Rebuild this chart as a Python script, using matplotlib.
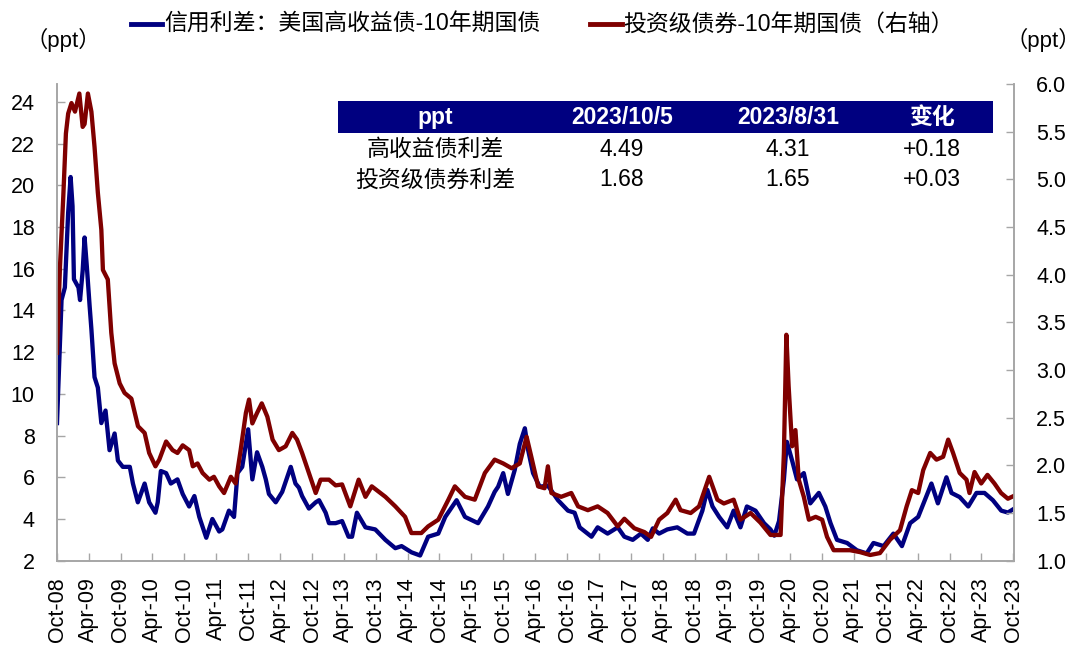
import matplotlib
matplotlib.use("Agg")
import matplotlib.pyplot as plt
import matplotlib.dates as mdates
from matplotlib.lines import Line2D
from matplotlib.patches import Rectangle
import pandas as pd

plt.rcParams['font.family'] = ['Liberation Sans', 'Noto Sans CJK SC']

# ---------------- data ----------------
hy_dates = [
    "2008-10-01", "2008-10-27", "2008-11-15", "2008-12-04", "2008-12-18", "2008-12-29",
    "2009-01-06", "2009-02-01", "2009-02-10", "2009-02-25", "2009-03-08", "2009-03-21",
    "2009-04-06", "2009-04-16", "2009-05-04", "2009-05-23", "2009-06-12", "2009-07-06",
    "2009-07-29", "2009-08-27", "2009-09-15", "2009-10-13", "2009-11-22", "2009-12-10",
    "2010-01-07", "2010-02-15", "2010-03-13", "2010-04-18", "2010-05-01", "2010-05-19",
    "2010-06-18", "2010-07-15", "2010-08-22", "2010-09-21", "2010-10-28", "2010-11-27",
    "2010-12-25", "2011-02-03", "2011-03-10", "2011-04-18", "2011-05-06", "2011-06-13",
    "2011-07-12", "2011-08-01", "2011-08-28", "2011-10-01", "2011-10-25", "2011-11-21",
    "2011-12-21", "2012-01-10", "2012-01-28", "2012-03-07", "2012-04-13", "2012-06-01",
    "2012-06-28", "2012-07-18", "2012-08-05", "2012-09-13", "2012-10-22", "2012-11-10",
    "2012-12-18", "2013-01-06", "2013-02-13", "2013-03-22", "2013-04-28", "2013-05-18",
    "2013-06-15", "2013-08-03", "2013-09-28", "2013-11-25", "2014-01-21", "2014-02-26",
    "2014-04-24", "2014-06-12", "2014-07-28", "2014-09-24", "2014-11-03", "2015-01-07",
    "2015-02-24", "2015-05-10", "2015-07-06", "2015-08-13", "2015-09-02", "2015-10-01",
    "2015-10-28", "2015-12-06", "2016-01-04", "2016-02-02", "2016-02-21", "2016-03-20",
    "2016-04-27", "2016-06-13", "2016-08-10", "2016-10-06", "2016-11-13", "2016-12-12",
    "2017-02-18", "2017-03-25", "2017-05-21", "2017-07-18", "2017-08-25", "2017-10-12",
    "2017-11-28", "2018-01-06", "2018-02-04", "2018-03-12", "2018-04-28", "2018-06-24",
    "2018-08-21", "2018-09-28", "2018-11-15", "2018-12-13", "2019-01-12", "2019-02-19",
    "2019-04-06", "2019-05-13", "2019-06-21", "2019-07-28", "2019-09-15", "2019-11-03",
    "2019-12-10", "2020-01-01", "2020-01-28", "2020-02-25", "2020-03-13", "2020-04-12",
    "2020-05-10", "2020-06-18", "2020-07-25", "2020-09-12", "2020-10-19", "2020-11-18",
    "2020-12-25", "2021-02-21", "2021-04-18", "2021-06-13", "2021-07-22", "2021-09-18",
    "2021-11-13", "2022-01-01", "2022-02-17", "2022-04-04", "2022-05-12", "2022-06-19",
    "2022-07-26", "2022-09-13", "2022-10-12", "2022-11-28", "2023-01-16", "2023-03-04",
    "2023-04-19", "2023-06-06", "2023-07-24", "2023-08-31", "2023-10-05",
]
hy_spread = [
    8.6, 14.5, 15.1, 18.7, 20.4, 19.0,
    15.5, 15.1, 14.5, 15.9, 17.5, 16.1,
    14.2, 13.1, 10.8, 10.3, 8.6, 9.2,
    7.3, 8.1, 6.8, 6.5, 6.5, 5.7,
    4.8, 5.7, 4.8, 4.3, 4.8, 6.3,
    6.2, 5.7, 5.9, 5.2, 4.6, 5.1,
    4.1, 3.1, 4.0, 3.4, 3.5, 4.4,
    4.1, 6.2, 6.5, 8.3, 5.9, 7.2,
    6.5, 5.9, 5.2, 4.8, 5.3, 6.5,
    5.7, 5.5, 5.1, 4.5, 4.8, 4.9,
    4.3, 3.8, 3.8, 3.9, 3.15, 3.15,
    4.3, 3.6, 3.5, 3.0, 2.6, 2.7,
    2.4, 2.25, 3.15, 3.3, 4.1, 4.9,
    4.1, 3.8, 4.6, 5.3, 5.55, 6.2,
    5.2, 6.35, 7.6, 8.35, 7.3, 6.2,
    5.55, 5.6, 4.9, 4.4, 4.3, 3.6,
    3.15, 3.6, 3.3, 3.6, 3.15, 3.0,
    3.3, 3.0, 3.55, 3.3, 3.5, 3.6,
    3.3, 3.3, 4.4, 5.4, 4.6, 4.1,
    3.6, 4.4, 3.6, 4.6, 4.4, 3.8,
    3.5, 3.2, 3.9, 5.9, 7.7, 6.8,
    5.9, 6.2, 4.75, 5.25, 4.6, 3.8,
    3.0, 2.85, 2.5, 2.35, 2.85, 2.7,
    3.3, 2.7, 3.8, 4.1, 4.9, 5.7,
    4.75, 6.0, 5.25, 5.05, 4.6, 5.25,
    5.25, 4.9, 4.4, 4.31, 4.49,
]

ig_dates = [
    "2008-10-01", "2008-10-18", "2008-11-06", "2008-11-21", "2008-12-04", "2008-12-23",
    "2009-01-12", "2009-02-06", "2009-02-25", "2009-03-08", "2009-03-27", "2009-04-16",
    "2009-05-04", "2009-05-23", "2009-06-12", "2009-06-21", "2009-07-19", "2009-08-08",
    "2009-08-27", "2009-09-25", "2009-10-23", "2009-12-01", "2010-01-08", "2010-02-15",
    "2010-03-13", "2010-04-18", "2010-05-10", "2010-06-18", "2010-07-25", "2010-08-22",
    "2010-09-21", "2010-10-28", "2010-11-18", "2010-12-15", "2011-01-13", "2011-02-21",
    "2011-03-19", "2011-04-18", "2011-05-16", "2011-06-24", "2011-07-21", "2011-08-19",
    "2011-09-18", "2011-10-06", "2011-10-25", "2011-11-21", "2011-12-18", "2012-01-19",
    "2012-02-18", "2012-03-25", "2012-05-03", "2012-06-10", "2012-07-07", "2012-08-05",
    "2012-09-13", "2012-10-22", "2012-11-19", "2013-01-06", "2013-02-13", "2013-03-22",
    "2013-05-08", "2013-06-25", "2013-08-03", "2013-09-08", "2013-11-25", "2014-01-21",
    "2014-03-18", "2014-04-23", "2014-06-19", "2014-07-28", "2014-09-24", "2014-11-21",
    "2014-12-28", "2015-02-24", "2015-04-21", "2015-06-18", "2015-08-13", "2015-10-01",
    "2015-11-18", "2016-01-04", "2016-02-12", "2016-03-10", "2016-04-18", "2016-05-25",
    "2016-06-13", "2016-07-03", "2016-08-28", "2016-10-25", "2016-12-03", "2017-01-28",
    "2017-03-25", "2017-05-21", "2017-07-18", "2017-08-25", "2017-10-21", "2017-12-18",
    "2018-01-25", "2018-03-12", "2018-04-28", "2018-06-15", "2018-07-13", "2018-09-09",
    "2018-10-27", "2018-12-24", "2019-02-09", "2019-03-18", "2019-05-13", "2019-06-21",
    "2019-08-18", "2019-10-13", "2019-12-10", "2020-02-06", "2020-02-25", "2020-03-10",
    "2020-03-23", "2020-04-12", "2020-05-01", "2020-05-20", "2020-06-18", "2020-07-17",
    "2020-08-25", "2020-10-01", "2020-10-29", "2020-12-06", "2021-01-13", "2021-03-10",
    "2021-05-06", "2021-07-03", "2021-08-28", "2021-10-25", "2021-12-21", "2022-01-28",
    "2022-02-27", "2022-04-04", "2022-05-03", "2022-06-12", "2022-07-18", "2022-08-25",
    "2022-09-23", "2022-10-21", "2022-11-28", "2023-01-06", "2023-01-23", "2023-02-21",
    "2023-03-31", "2023-05-06", "2023-06-15", "2023-07-23", "2023-08-31", "2023-10-05",
]
ig_spread = [
    3.18, 4.08, 4.82, 5.48, 5.69, 5.80,
    5.71, 5.90, 5.55, 5.58, 5.90, 5.71,
    5.34, 4.86, 4.47, 4.05, 3.95, 3.39,
    3.07, 2.86, 2.76, 2.70, 2.41, 2.34,
    2.13, 1.99, 2.06, 2.25, 2.16, 2.13,
    2.21, 2.16, 1.99, 2.02, 1.92, 1.85,
    1.88, 1.78, 1.71, 1.88, 1.81, 2.16,
    2.55, 2.69, 2.44, 2.55, 2.65, 2.51,
    2.27, 2.16, 2.20, 2.34, 2.27, 2.13,
    1.92, 1.71, 1.85, 1.85, 1.79, 1.80,
    1.57, 1.85, 1.67, 1.78, 1.67, 1.57,
    1.46, 1.29, 1.29, 1.36, 1.43, 1.64,
    1.78, 1.67, 1.64, 1.92, 2.06, 2.02,
    1.97, 2.02, 2.30, 2.09, 1.78, 1.76,
    1.99, 1.71, 1.67, 1.71, 1.57, 1.53,
    1.57, 1.50, 1.36, 1.44, 1.34, 1.30,
    1.25, 1.43, 1.50, 1.64, 1.53, 1.50,
    1.57, 1.88, 1.64, 1.60, 1.64, 1.43,
    1.50, 1.40, 1.27, 1.27, 2.13, 3.37,
    2.83, 2.20, 2.37, 1.85, 1.67, 1.43,
    1.46, 1.43, 1.25, 1.11, 1.11, 1.11,
    1.09, 1.06, 1.08, 1.22, 1.32, 1.57,
    1.74, 1.71, 1.95, 2.13, 2.06, 2.09,
    2.27, 2.13, 1.92, 1.85, 1.71, 1.93,
    1.81, 1.90, 1.81, 1.71, 1.65, 1.68,
]

legend_labels = ["信用利差：美国高收益债-10年期国债", "投资级债券-10年期国债（右轴）"]
table_header = ["ppt", "2023/10/5", "2023/8/31", "变化"]
table_rows = [
    ["高收益债利差", "4.49", "4.31", "+0.18"],
    ["投资级债券利差", "1.68", "1.65", "+0.03"],
]
left_ticks = [2, 4, 6, 8, 10, 12, 14, 16, 18, 20, 22, 24]
right_ticks = [1.0, 1.5, 2.0, 2.5, 3.0, 3.5, 4.0, 4.5, 5.0, 5.5, 6.0]

# ---------------- styling ----------------
BLUE = "#000080"
RED = "#7F0000"
GRID_GRAY = "#A6A6A6"
W, H = 1080, 659

fig = plt.figure(figsize=(W / 100, H / 100), dpi=100)
ax = fig.add_axes([57 / W, 1 - 560.7 / H, (1014 - 57) / W, (560.7 - 84) / H])
ax2 = ax.twinx()

hy_x = pd.to_datetime(hy_dates)
ig_x = pd.to_datetime(ig_dates)
ax.plot(hy_x, hy_spread, color=BLUE, lw=3.1, solid_joinstyle="round")
ax2.plot(ig_x, ig_spread, color=RED, lw=3.1, solid_joinstyle="round")

ax.set_xlim(pd.Timestamp("2008-10-01"), pd.Timestamp("2023-10-05"))
ax.set_ylim(2, 24.86)
ax2.set_ylim(1.0, 6.0)
ax.set_yticks(left_ticks)
ax.set_yticklabels([str(t) for t in left_ticks])
ax2.set_yticks(right_ticks)
ax2.set_yticklabels([f"{t:.1f}" for t in right_ticks])

ax.xaxis.set_major_locator(mdates.MonthLocator(bymonth=[4, 10], bymonthday=1))
ax.xaxis.set_major_formatter(mdates.DateFormatter("%b-%y"))
for lab in ax.get_xticklabels():
    lab.set_rotation(90)

for a in (ax, ax2):
    a.spines["top"].set_visible(False)
    for s in ("left", "right", "bottom"):
        a.spines[s].set_color(GRID_GRAY)
        a.spines[s].set_linewidth(1.2)
    a.tick_params(direction="in", length=6, width=1, color=GRID_GRAY,
                  labelsize=15.5, labelcolor="#000000")
ax.tick_params(axis="y", pad=16)
ax2.tick_params(axis="y", pad=16)
ax.tick_params(axis="x", pad=12)
ax.set_facecolor("none")
ax2.set_facecolor("none")

# axis unit labels
fig.text(63 / W, 1 - 40 / H, "（ppt）", fontsize=16, ha="center", va="center")
fig.text(1043 / W, 1 - 40 / H, "（ppt）", fontsize=16, ha="center", va="center")

# legend (manual)
leg_y = 1 - 24 / H
fig.add_artist(Line2D([131 / W, 162 / W], [leg_y, leg_y], color=BLUE, lw=3.5,
                      transform=fig.transFigure))
fig.text(164 / W, leg_y, legend_labels[0], fontsize=16.5, ha="left", va="center")
fig.add_artist(Line2D([590 / W, 622 / W], [leg_y, leg_y], color=RED, lw=3.5,
                      transform=fig.transFigure))
fig.text(623 / W, leg_y, legend_labels[1], fontsize=16.5, ha="left", va="center")

# table
fig.add_artist(Rectangle((338 / W, 1 - 133 / H), (993 - 338) / W, 32 / H,
                         facecolor=BLUE, edgecolor="none", transform=fig.transFigure))
col_x = [435, 622, 788, 932]
for cx, txt in zip(col_x, table_header):
    fig.text(cx / W, 1 - 117.5 / H, txt, fontsize=16.5, fontweight="bold", color="white",
             ha="center", va="center")
row_y = [149, 180]
for ry, row in zip(row_y, table_rows):
    for cx, txt in zip(col_x, row):
        fig.text(cx / W, 1 - ry / H, txt, fontsize=16.5, color="black",
                 ha="center", va="center")

fig.savefig("out.png", dpi=100)
